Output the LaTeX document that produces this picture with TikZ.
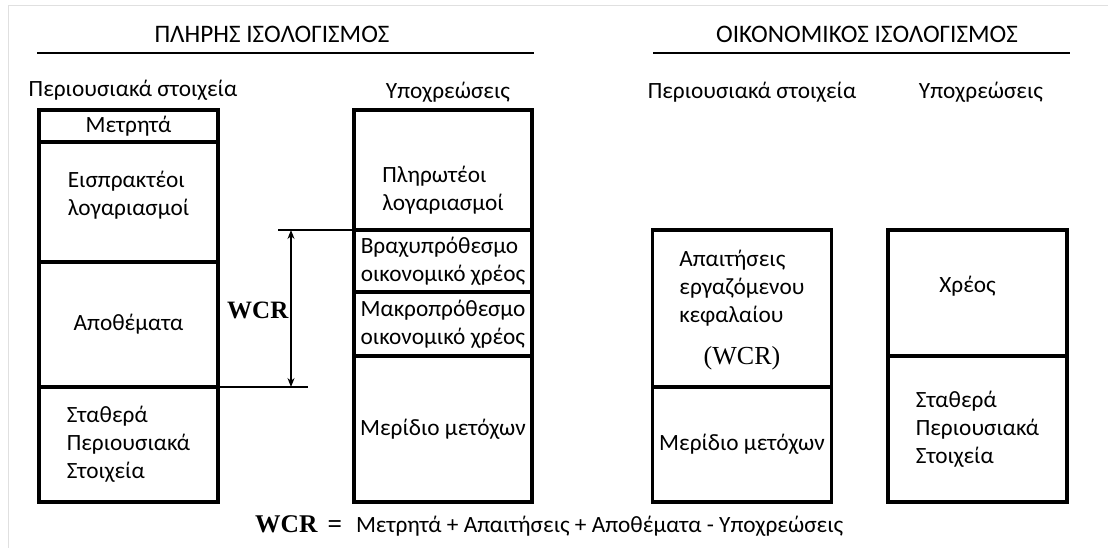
\documentclass[tikz,border=0pt]{standalone}
\usepackage{fontspec}
\setmainfont{Carlito}
\newfontfamily\timesfont{Liberation Serif}
\usetikzlibrary{arrows.meta}

\begin{document}
\begin{tikzpicture}[x=1pt,y=-1pt,
		txt/.style={font=\fontsize{23.3}{28}\selectfont, inner sep=0pt},
		title/.style={font=\fontsize{25.2}{30}\selectfont, inner sep=0pt},
		cell/.style={txt, draw, line width=3.8pt, align=left},
		wcr/.style={font=\timesfont\bfseries\fontsize{25}{30}\selectfont, inner sep=0pt}]
			\useasboundingbox (0,0) rectangle (1108,548);
			\draw[black!12, line width=1pt] (8,548) -- (8,6) -- (1108,6);
			% titles
			\node[title, anchor=base] (tfull) at (272,43) {ΠΛΗΡΗΣ ΙΣΟΛΟΓΙΣΜΟΣ};
			\node[title, anchor=base] (tecon) at (867,43) {ΟΙΚΟΝΟΜΙΚΟΣ ΙΣΟΛΟΓΙΣΜΟΣ};
			\draw[line width=2pt] (37,53) -- (534,53);
			\draw[line width=2pt] (653,53) -- (1070,53);
			\node[txt, anchor=base] (hasset) at (133,97) {Περιουσιακά στοιχεία};
			\node[txt, anchor=base] (hliab) at (448,99) {Υποχρεώσεις};
			\node[txt, anchor=base] (hasset2) at (752,99) {Περιουσιακά στοιχεία};
			\node[txt, anchor=base] (hliab2) at (981,99) {Υποχρεώσεις};
			% full balance sheet
			\node[cell, minimum width=179pt, minimum height=32pt] (cash) at (128.5,126) {Μετρητά};
			\node[cell, minimum width=179pt, minimum height=120pt] (recv) at (128.5,202) {Εισπρακτέοι\\λογαριασμοί\\[-10pt]\mbox{}};
			\node[cell, minimum width=179pt, minimum height=125pt] (inv) at (128.5,324.5) {Αποθέματα};
			\node[cell, minimum width=179pt, minimum height=115pt] (fixed) at (128.5,444.5) {Σταθερά\\Περιουσιακά\\Στοιχεία};
			\node[cell, minimum width=178pt, minimum height=120pt] (payable) at (443,170) {\mbox{}\\[28pt]Πληρωτέοι\\λογαριασμοί};
			\node[cell, minimum width=178pt, minimum height=62pt] (short) at (443,261) {Βραχυπρόθεσμο\\οικονομικό χρέος};
			\node[cell, minimum width=178pt, minimum height=64pt] (long) at (443,324) {Μακροπρόθεσμο\\οικονομικό χρέος};
			\node[cell, minimum width=178pt, minimum height=146pt] (equity) at (443,429) {Μερίδιο μετόχων};
			% WCR span
			\coordinate (wtop) at (291,230);
			\coordinate (wbot) at (291,387);
			\coordinate (ltop) at (278,230);
			\coordinate (lbot) at (308,387);
			\draw[line width=1.3pt] (ltop) -- (ltop -| payable.west);
			\draw[line width=1.3pt] (inv.east |- lbot) -- (lbot);
			\draw[{Stealth[length=9pt,width=7pt]}-{Stealth[length=9pt,width=7pt]}, line width=1.3pt] (wtop) -- (wbot);
			\node[wcr, anchor=base west] (wcrlab) at (227,318) {WCR};
			% economic balance sheet
			\node[cell, align=center, minimum width=179pt, minimum height=157pt] (need) at (742,308.5) {\begin{tabular}{@{}l@{}}Απαιτήσεις\\εργαζόμενου\\κεφαλαίου\end{tabular}\\[14pt]{\timesfont\fontsize{26}{28}\selectfont (WCR)}};
			\node[cell, minimum width=179pt, minimum height=115pt] (equity2) at (742,444.5) {Μερίδιο μετόχων};
			\node[cell, minimum width=179pt, minimum height=126pt] (debt) at (977.5,293) {Χρέος\kern20pt\\[-10pt]\mbox{}};
			\node[cell, minimum width=179pt, minimum height=146pt] (fixed2) at (977.5,429) {Σταθερά\\Περιουσιακά\\Στοιχεία};
			% formula
			\node[txt, anchor=base west] (formula) at (255,532) {{\timesfont\bfseries\fontsize{25.5}{30}\selectfont WCR\hspace{10pt}=}\hspace{14pt}Μετρητά + Απαιτήσεις + Αποθέματα - Υποχρεώσεις};
		\end{tikzpicture}
\end{document}
